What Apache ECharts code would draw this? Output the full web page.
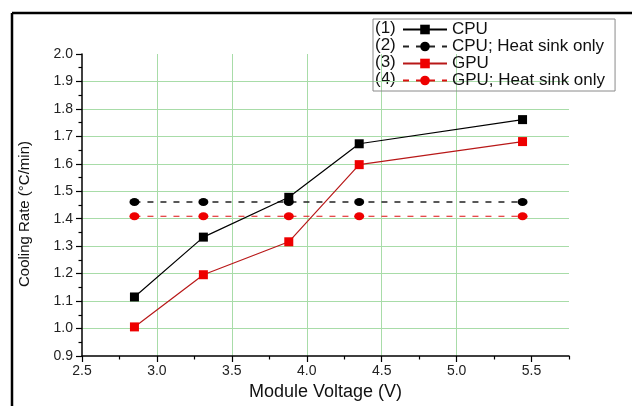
<!DOCTYPE html>
<html>
<head>
<meta charset="utf-8">
<script src="https://cdn.jsdelivr.net/npm/echarts@6/dist/echarts.min.js"></script>
<style>
html,body{margin:0;padding:0;background:#fff;}
#c{width:632px;height:406px;}
</style>
</head>
<body>
<div id="c"></div>
<script>
// Data
const voltage = [2.85, 3.31, 3.88, 4.35, 5.44];
const cpu = [1.115, 1.333, 1.478, 1.673, 1.761];
const cpuHeatSink = [1.461, 1.461, 1.461, 1.461, 1.461];
const gpu = [1.006, 1.196, 1.316, 1.597, 1.681];
const gpuHeatSink = [1.409, 1.409, 1.409, 1.409, 1.409];
const seriesNames = ['CPU', 'CPU; Heat sink only', 'GPU', 'GPU; Heat sink only'];
const legendNums = ['(1)', '(2)', '(3)', '(4)'];
const xMajorTicks = [2.5, 3.0, 3.5, 4.0, 4.5, 5.0, 5.5];
const xMinorTicks = [2.75, 3.25, 3.75, 4.25, 4.75, 5.25, 5.75];

const pairs = (xs, ys) => xs.map((x, i) => [x, ys[i]]);
const FONT = '"Liberation Sans", Arial, sans-serif';
const GRIDC = '#a8dca8';

const chart = echarts.init(document.getElementById('c'), null, {renderer: 'canvas'});
const option = {
  animation: false,
  backgroundColor: '#ffffff',
  textStyle: {fontFamily: FONT},
  grid: {left: 82, right: 63, top: 54, bottom: 44, containLabel: false},
  legend: {
    left: 373, top: 19,
    orient: 'vertical',
    padding: [2, 10, 2, 29],
    itemWidth: 44, itemHeight: 12, itemGap: 0,
    borderColor: '#8a8a8a', borderWidth: 1,
    textStyle: {fontFamily: FONT, fontSize: 17, color: '#111', lineHeight: 14},
    data: seriesNames
  },
  xAxis: [{
    type: 'value', min: 2.5, max: 5.75, interval: 0.5,
    position: 'bottom',
    name: 'Module Voltage (V)', nameLocation: 'middle', nameGap: 27,
    nameTextStyle: {fontFamily: FONT, fontSize: 18, color: '#111'},
    axisLine: {show: true, onZero: false, lineStyle: {color: '#000', width: 1.5}},
    axisTick: {show: true, customValues: xMajorTicks, length: 6, lineStyle: {color: '#000', width: 1.2}},
    axisLabel: {customValues: xMajorTicks, fontSize: 14, color: '#222', margin: 8, formatter: v => v.toFixed(1)},
    splitLine: {show: true, showMinLine: false, showMaxLine: false, lineStyle: {color: GRIDC, width: 1}}
  }, {
    type: 'value', min: 2.5, max: 5.75, interval: 0.25,
    position: 'bottom',
    axisLine: {show: false},
    axisTick: {show: true, customValues: xMinorTicks, length: 3.5, lineStyle: {color: '#000', width: 1.2}},
    axisLabel: {show: false},
    splitLine: {show: false}
  }],
  yAxis: {
    type: 'value', min: 0.9, max: 2.0, interval: 0.1,
    axisLine: {show: true, onZero: false, lineStyle: {color: '#000', width: 1.5}},
    axisTick: {show: true, length: 6, lineStyle: {color: '#000', width: 1.2}},
    minorTick: {show: true, splitNumber: 2, length: 3.5, lineStyle: {color: '#000', width: 1.2}},
    axisLabel: {fontSize: 14, color: '#222', margin: 9, formatter: v => v.toFixed(1)},
    splitLine: {show: true, showMinLine: false, showMaxLine: false, lineStyle: {color: GRIDC, width: 1}}
  },
  graphic: [
    {type: 'line', shape: {x1: 12, y1: 13, x2: 632, y2: 13}, style: {stroke: '#000', lineWidth: 2.5}, z: 100},
    {type: 'line', shape: {x1: 12, y1: 13, x2: 12, y2: 406}, style: {stroke: '#000', lineWidth: 2.5}, z: 100},
    {type: 'text', x: 25, y: 214, rotation: Math.PI / 2,
      style: {text: 'Cooling Rate (°C/min)', font: '15px ' + FONT, fill: '#111', align: 'center', verticalAlign: 'middle'}}
  ].concat(legendNums.map((t, i) => ({
    type: 'text', x: 375, y: 28 + i * 17,
    style: {text: t, font: '17px ' + FONT, fill: '#111', align: 'left', verticalAlign: 'middle'}
  }))),
  series: [
    {name: seriesNames[0], type: 'line', data: pairs(voltage, cpu), z: 4,
      symbol: 'rect', symbolSize: 9, itemStyle: {color: '#000'},
      lineStyle: {color: '#000', width: 1.2}},
    {name: seriesNames[1], type: 'line', data: pairs(voltage, cpuHeatSink), z: 3,
      symbol: 'circle', symbolSize: [10, 8], itemStyle: {color: '#000'},
      lineStyle: {color: '#222', width: 1.5, type: [6, 7]}},
    {name: seriesNames[2], type: 'line', data: pairs(voltage, gpu), z: 4,
      symbol: 'rect', symbolSize: 9, itemStyle: {color: '#ee0000'},
      lineStyle: {color: '#b81818', width: 1.2}},
    {name: seriesNames[3], type: 'line', data: pairs(voltage, gpuHeatSink), z: 3,
      symbol: 'circle', symbolSize: [10, 8], itemStyle: {color: '#ee0000'},
      lineStyle: {color: '#dd1010', width: 1.2, type: [6, 7]}}
  ]
};
chart.setOption(option);
</script>
</body>
</html>
